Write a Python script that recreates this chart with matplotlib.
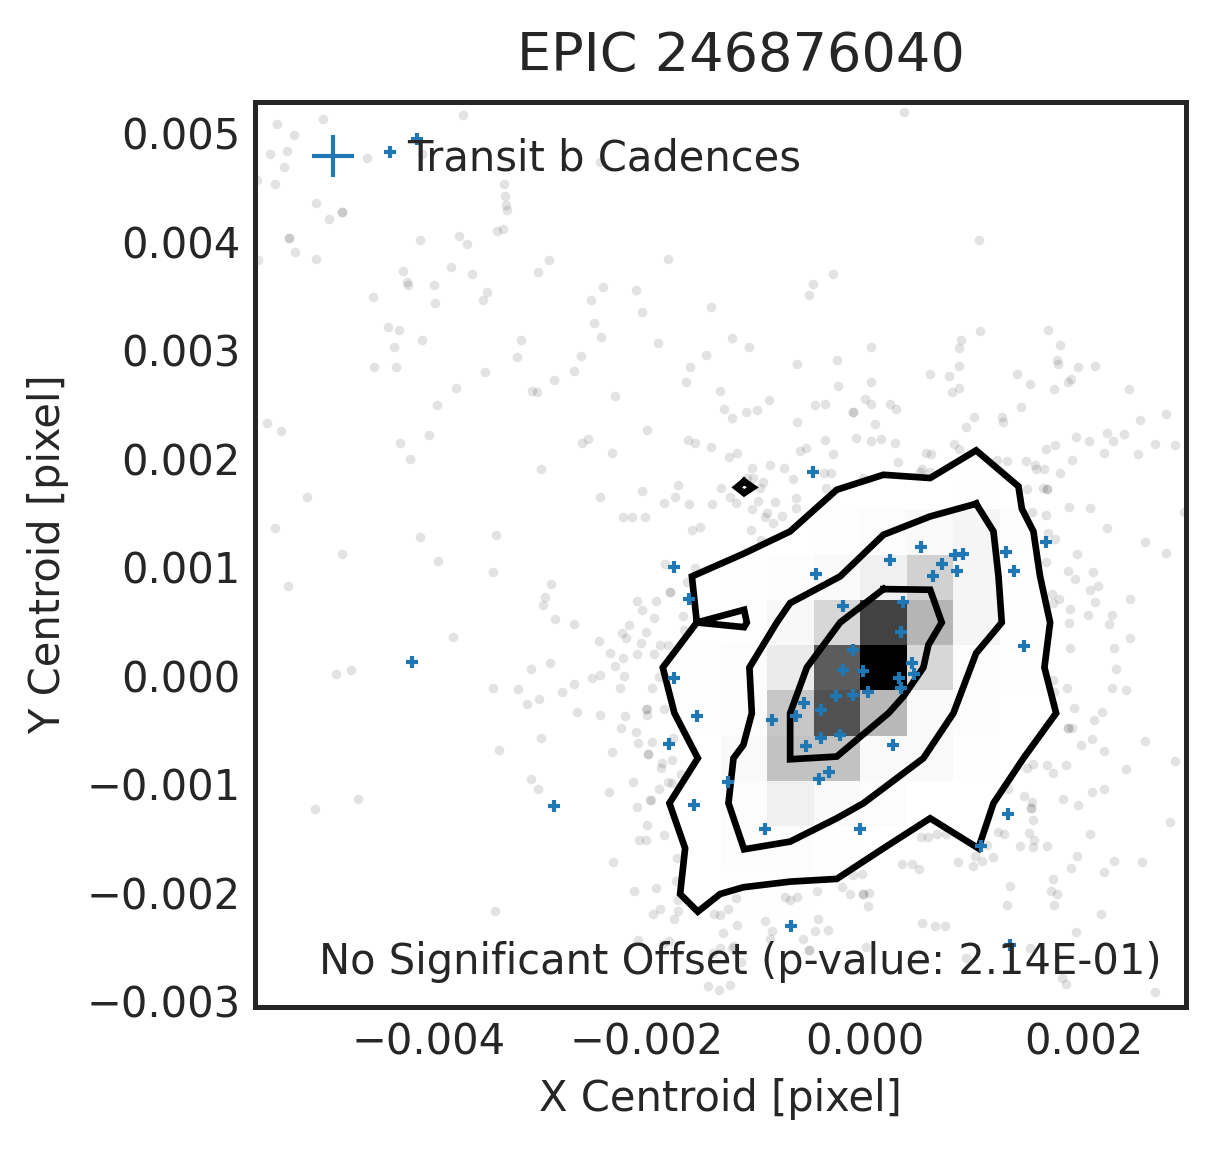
import numpy as np
import matplotlib
matplotlib.use('Agg')
import matplotlib.pyplot as plt
from matplotlib.transforms import ScaledTranslation

# all centroid values in units of 1e-3 pixel
# out of transit cadences (grey dots)
dots_x = [-5.39,-5.23,-4.97,-3.68,-5.45,-5.30,-5.32,-4.56,-4.06,-2.43,-5.41,-5.57,-5.03,-4.79,-4.79,-4.91,-5.28,-5.28,-5.22,-5.03,-5.56,
    -3.31,-3.30,-3.29,-3.28,-3.37,-3.32,-4.08,-3.72,-3.65,-4.23,-3.79,-3.60,-3.00,-2.90,-4.20,-4.19,-3.95,-3.46,-3.50,-3.94,-4.51,-2.40,-2.10,-2.51,-2.04,
    -4.37,-4.27,-2.48,-4.06,-4.32,-2.42,-3.15,-3.19,-2.60,-4.50,-4.30,-3.48,-2.67,-2.85,-3.05,-3.01,-3.75,-2.29,-3.92,-5.48,-5.35,-4.00,-2.00,-2.54,-2.59,-4.26,
    -5.11,-5.41,-4.79,-5.29,-4.08,-3.91,-4.17,-3.38,-3.41,-2.97,-2.32,-2.43,-2.04,-2.22,-2.14,-2.02,-2.88,-2.93,-2.95,-2.84,-2.67,-2.09,-2.04,-2.16,-2.23,-2.19,-2.01,-2.05,
    -2.44,-2.34,-2.22,-2.09,-2.29,-2.21,-2.43,-2.50,-2.25,-2.89,-3.06,-3.78,-4.85,-4.71,-3.41,-3.18,-2.99,-3.10,-2.78,-2.67,-2.64,-2.43,-2.20,-2.00,-2.00,-2.24,-2.10,-2.08,
    -2.97,-2.32,-3.35,-1.99,-1.99,-3.06,-3.00,-2.35,-2.13,-2.09,-1.97,-2.00,-2.07,-2.01,-2.31,-2.12,-3.39,-2.08,-4.65,-5.04,
    0.36,1.04,-1.81,-0.29,-0.48,-0.51,-1.41,-1.90,-1.22,-1.06,-1.46,-1.60,-1.64,-1.33,-1.29,-1.22,-1.09,-0.99,-0.88,-0.62,-0.62,-0.26,0.05,0.05,-0.25,-0.46,-0.37,-0.11,-0.11,0.00,0.05,0.23,0.28,0.09,
    0.59,0.77,0.86,0.86,0.88,1.05,1.68,1.79,1.76,1.77,1.95,2.11,1.39,1.51,1.73,1.86,1.89,2.42,0.80,0.86,1.43,1.25,1.26,1.00,0.92,2.76,2.52,2.22,2.37,2.27,2.05,1.93,1.74,1.66,2.19,2.50,2.66,2.84,
    1.90,1.79,1.47,1.56,1.57,1.64,1.30,1.21,1.48,1.63,1.67,1.67,0.81,0.86,0.56,0.60,0.30,0.27,0.15,0.05,-0.08,-0.29,-0.37,-0.54,-0.60,-0.74,-0.87,-1.04,-1.17,-1.25,-1.41,-1.56,-1.62,-1.71,-1.32,-0.66,
    -1.03,-0.94,-0.96,-1.08,-0.38,-0.31,-0.36,-0.02,0.50,0.52,0.59,
    -1.84,-1.74,-1.61,-1.40,-1.59,-1.51,-1.24,-1.18,-1.04,-0.98,-0.83,-0.90,-0.92,-0.84,-0.76,-0.63,-0.63,-1.05,-0.95,-1.79,-1.79,-1.92,-1.93,-1.88,-1.81,-1.93,-1.67,-1.66,-1.63,-1.83,-1.56,
    -1.89,-1.95,-2.01,-1.84,-1.95,-1.76,-1.86,-1.77,-1.87,-1.69,-1.81,-1.77,-1.89,-1.96,-1.84,-1.72,-1.92,-1.73,-1.71,-1.88,-1.94,-1.71,-1.75,-1.38,-1.26,-1.33,-1.18,-1.17,-0.92,-0.73,-0.69,-0.62,-0.44,
    -0.21,-0.14,-0.02,-0.02,0.04,-0.03,-0.11,0.03,0.52,0.64,0.73,0.34,0.43,0.49,0.51,0.58,0.66,0.74,0.85,0.99,1.07,1.01,1.12,1.17,1.22,1.27,1.42,1.54,1.67,1.50,1.55,1.54,1.46,1.53,1.52,1.52,1.81,1.31,
    1.54,1.48,1.67,1.72,1.94,1.89,1.72,1.33,1.70,1.76,1.30,1.73,1.86,1.86,1.91,1.85,1.72,1.88,1.87,1.88,1.92,1.71,1.66,1.87,1.53,1.66,1.94,
    2.06,2.22,1.68,1.74,2.56,2.76,2.92,1.86,2.09,2.13,2.06,2.11,2.43,1.78,1.72,2.04,2.26,2.23,2.43,2.28,2.30,2.26,2.39,1.73,2.17,2.10,1.90,2.08,1.98,2.19,2.56,2.84,2.39,1.84,2.19,2.08,1.95,2.79,2.06,
    2.54,2.28,2.19,2.16,1.93,1.51,2.66,1.84,1.80,0.92,0.01,-0.34,-0.46,-0.43,-0.57,-0.51,-0.51,-0.85,-0.87,-1.30,-1.85,-1.80,-1.33,-1.20,-1.22,-1.39,-1.14,-1.44,-1.34,-1.24]
dots_y = [5.10,5.00,5.14,5.18,4.82,4.85,4.70,4.78,4.82,4.75,4.54,4.58,4.37,4.29,4.29,4.22,4.05,4.05,3.92,3.85,3.84,
    4.54,4.43,4.35,4.30,4.11,4.13,4.03,4.06,3.99,3.74,3.78,3.71,3.73,3.84,3.64,3.61,3.61,3.55,3.47,3.45,3.50,3.59,3.57,3.47,3.36,
    3.23,3.20,3.26,3.11,3.04,3.13,3.11,2.95,2.96,2.86,2.86,2.81,2.82,2.74,2.64,2.63,2.66,2.59,2.51,2.34,2.27,2.23,2.28,2.19,2.16,2.16,
    1.66,1.37,1.13,0.84,1.29,1.07,2.01,1.31,0.97,1.92,2.06,1.66,1.71,1.47,1.47,1.47,0.86,0.74,0.66,0.53,0.49,0.70,0.62,0.48,0.40,0.36,0.41,0.31,
    0.33,0.22,0.17,0.21,0.10,0.01,0.02,-0.01,-0.10,0.13,0.07,0.37,0.03,0.06,-0.10,-0.11,-0.20,-0.25,-0.14,-0.07,-0.32,-0.35,-0.36,-0.30,-0.35,-0.47,-0.51,-0.61,
    -0.56,-0.69,-0.67,-0.71,-0.71,-0.94,-1.03,-1.06,-0.97,-1.20,-1.14,-1.37,-1.50,-1.50,-1.71,-1.97,-2.16,-2.43,-1.13,-1.22,
    5.21,4.03,3.85,3.71,3.62,3.52,3.41,3.08,3.12,3.04,2.97,2.86,2.72,2.64,2.47,2.39,2.44,2.46,2.55,2.88,2.35,2.92,3.04,2.72,2.68,2.51,2.52,2.44,2.44,2.56,2.52,2.52,2.47,2.33,
    2.79,2.77,2.87,3.03,3.11,3.19,3.20,3.06,2.92,2.88,2.86,2.87,2.79,2.70,2.65,2.72,2.75,2.65,2.63,2.66,2.49,2.40,2.35,2.40,2.30,2.42,2.37,2.25,2.24,2.17,2.17,2.21,2.14,2.10,2.06,2.05,2.15,2.14,
    2.00,1.88,1.99,1.95,1.92,1.92,1.99,2.00,1.73,1.74,1.73,1.73,2.15,2.10,2.06,2.05,1.98,2.16,2.19,2.17,2.20,2.05,2.18,2.11,2.08,1.93,1.95,1.93,2.06,2.03,2.12,2.16,2.18,1.77,1.74,1.82,
    1.83,1.80,1.74,1.83,1.88,1.88,1.74,1.83,1.89,1.92,1.89,
    1.60,1.66,1.59,1.59,1.35,1.38,1.66,1.60,1.55,1.62,1.61,1.51,1.47,1.42,1.48,1.65,1.56,1.35,1.26,0.78,0.78,0.70,0.54,0.29,0.29,0.21,0.56,0.43,0.87,1.04,1.00,
    0.00,-0.10,-0.30,-0.30,-0.60,-0.56,-0.79,-0.77,-0.84,-0.90,-0.97,-0.98,-1.03,-1.14,-1.46,-1.67,-1.95,-1.88,-2.06,-2.14,-2.19,-2.16,-2.23,-2.19,-2.14,-2.20,-2.04,-2.29,-2.25,-2.03,-2.06,-2.03,-1.97,
    -1.94,-2.00,-2.00,-2.00,-1.99,-1.82,-1.83,-2.11,-2.27,-2.30,-2.30,-1.73,-1.73,-1.77,-1.48,-1.48,-1.45,-1.45,-1.71,-1.74,-1.70,-1.65,-1.55,-1.66,-1.43,-1.45,-1.56,-1.57,-1.56,-1.44,-1.50,-1.32,-1.10,-1.15,-1.21,-1.21,-1.13,-1.03,
    -0.80,-0.84,-0.81,-0.89,-1.65,-1.76,-1.86,-1.93,-1.97,-2.00,-2.10,-2.10,-0.47,-0.47,-0.29,-0.10,-0.03,0.27,0.50,0.63,0.90,0.76,1.49,1.57,1.52,1.06,1.13,
    1.56,1.37,1.33,1.27,1.24,1.14,1.52,0.98,0.97,0.84,0.80,0.69,0.72,0.72,0.68,0.57,0.57,0.49,0.36,0.27,0.07,-0.10,-0.12,-0.14,-0.32,-0.40,-0.47,-0.57,-0.63,-0.68,-0.59,-0.78,-0.85,-0.81,-1.03,-1.06,-1.18,-1.34,-1.45,
    -1.71,-1.70,-1.80,-2.19,-2.35,-2.50,-2.91,-2.83,-2.78,-2.59,-2.49,-2.33,-2.34,-2.23,-2.42,-2.52,-2.52,-2.34,-2.42,-2.36,-2.46,-2.44,-2.50,-2.48,-2.50,-2.55,-2.63,-2.85,-2.89,-2.84]

# in transit cadences (blue crosses)
transit_x = [-1.75,-1.61,-1.75,-1.54,-1.80,-1.26,-1.57,-0.92,-0.85,-0.56,-0.63,-0.54,-0.42,-0.33,-0.40,-0.23,-0.40,-0.27,-0.11,-0.20,-0.11,-0.20,-0.45,-0.02,0.03,
    0.23,0.51,0.35,0.33,0.43,0.45,0.31,0.33,0.26,-0.05,0.62,0.70,0.82,0.90,0.84,1.29,1.36,1.66,1.46,1.31,1.06,-0.48,-0.68,-4.11,-4.35,-4.15,-2.85,1.33]
transit_y = [1.01,0.72,-0.01,-0.36,-0.62,-0.97,-1.18,-1.40,-0.40,-0.24,-0.36,-0.64,-0.94,-0.88,-0.56,-0.54,-0.31,-0.18,-0.17,0.06,0.25,0.65,0.95,0.05,-0.14,
    1.08,1.20,0.69,0.41,0.13,0.03,-0.01,-0.10,-0.63,-1.40,0.93,1.04,1.12,1.13,0.98,1.15,0.98,1.24,0.28,-1.26,-1.56,1.89,-2.30,4.96,4.84,0.14,-1.19,-2.47]

# contour levels of the 2d histogram
outer_x = [-1.542,-1.587,-1.115,-0.687,-0.260,0.168,0.596,1.017,1.405,1.436,1.542,1.603,1.695,1.643,1.750,1.451,1.176,1.038,0.596,0.168,-0.260,-0.687,-1.115,-1.328,-1.533,-1.695,-1.649,-1.793,-1.533,-1.747,-1.854,-1.542,-1.109,-1.084,-1.109,-1.542]
outer_y = [0.501,0.926,1.135,1.341,1.725,1.863,1.833,2.088,1.756,1.550,1.341,0.926,0.501,0.086,-0.335,-0.750,-1.165,-1.581,-1.304,-1.581,-1.863,-1.888,-1.940,-2.002,-2.165,-2.002,-1.581,-1.165,-0.750,-0.335,0.086,0.501,0.618,0.501,0.458,0.501]
island_x = [-1.109,-1.029,-1.109,-1.176,-1.109]
island_y = [1.802,1.747,1.694,1.747,1.802]
middle_x = [1.017,0.596,0.168,-0.229,-0.687,-0.809,-1.060,-1.038,-1.115,-1.206,-1.252,-1.109,-0.687,-0.260,-0.015,0.168,0.534,0.809,1.017,1.252,1.222,1.176,1.017]
middle_y = [1.596,1.479,1.310,0.926,0.680,0.501,0.086,-0.335,-0.627,-0.750,-1.165,-1.590,-1.519,-1.304,-1.165,-1.027,-0.750,-0.335,0.218,0.501,0.926,1.341,1.596]
inner_x = [0.168,0.596,0.702,0.580,0.534,0.351,0.214,-0.260,-0.687,-0.687,-0.534,-0.229,0.168]
inner_y = [0.809,0.803,0.501,0.295,0.086,-0.181,-0.335,-0.735,-0.760,-0.335,0.086,0.501,0.809]

# 20x20 histogram, darkness in percent, first row is the top of the plot
hist_rows = [
    [0]*20,
    [0]*20,
    [0,.2,.2,.2,0,0,.1,.1,.1,0,0,0,0,0,0,0,0,0,0,0],
    [0,0,0,.1,.1,.2,.2,.2,.1,.1,.1,.1,0,.1,.1,0,0,0,0,0],
    [0,0,0,.1,.1,.2,.2,.2,.2,.1,.1,.1,.1,.1,.1,0,0,0,0,0],
    [0,0,0,0,.1,.2,.2,.2,.2,.2,.2,.2,.1,.2,.2,.2,.2,.1,0,0],
    [0,0,0,.1,.1,.1,.1,.1,.2,.2,.2,.2,.2,.2,.2,.2,.2,.2,.1,0],
    [0,0,.1,.1,.1,.1,.1,.1,.2,.2,.2,.2,.2,.2,.2,.2,.2,.2,.1,0],
    [0,0,.1,.1,.1,.1,.1,.2,.2,.2,.2,.2,.2,.2,.3,.4,.3,.2,.1,0],
    [0,0,0,.1,.1,.1,.1,.2,.2,.3,.3,.3,.5,1.5,2.5,4,.8,.2,.1,0],
    [0,0,0,.1,.1,.1,.1,.2,.2,.3,.5,.8,2.5,6,18,4,.5,.2,.1,0],
    [0,0,0,0,.1,.1,.1,.2,.2,.3,.7,3,16,74,29,4,.7,.2,.1,0],
    [0,0,0,0,.1,.1,.1,.2,.2,.6,1.5,8,64,100,16,1.5,.4,.2,.1,0],
    [0,0,0,0,.1,.1,.1,.2,.2,.5,1.5,22,68,28,2.5,1.2,.3,.2,.1,0],
    [0,0,0,0,.1,.1,.1,.2,.2,.3,2.5,24,24,2.5,2.5,.4,.2,.2,.1,0],
    [0,0,0,0,0,.1,.1,.2,.2,.3,1.5,6,2.5,1.5,.3,.2,.2,.2,.1,0],
    [0,0,0,0,0,0,.1,.1,.2,.3,1.2,1.2,.7,.3,.2,.2,.2,.1,.1,0],
    [0,0,0,0,0,0,.1,.1,.2,.3,.6,.6,.3,.2,.2,.2,.1,.1,0,0],
    [0,0,0,0,0,0,0,0,.1,.1,.2,.2,.2,.1,.1,.1,.1,.1,0,0],
    [0,0,0,0,0,0,0,0,0,.1,.1,.1,.1,.1,.1,.1,.1,0,0,0],
]

x_ticks = [-0.004, -0.002, 0.000, 0.002]
y_ticks = [-0.003, -0.002, -0.001, 0.000, 0.001, 0.002, 0.003, 0.004, 0.005]

xlim = (-0.00559, 0.00294)
ylim = (-0.003044, 0.0053)
dark = '#262626'
blue = '#1f77b4'
scale = 1e-3


def main():
    plt.rcParams['font.family'] = 'DejaVu Sans'
    plt.rcParams['axes.unicode_minus'] = True

    fig = plt.figure(figsize=(4.05, 3.83), dpi=300)
    ax = fig.add_axes([255/1215, 1 - 1007/1149, 931/1215, 905/1149])

    # histogram underneath everything
    xedges = np.linspace(xlim[0], xlim[1], 21)
    yedges = np.linspace(ylim[0], ylim[1], 21)
    hist = np.array(hist_rows, dtype=float)[::-1]
    ax.pcolormesh(xedges, yedges, hist, cmap='gray_r', vmin=0, vmax=100,
                  linewidth=0, zorder=1)

    ax.scatter(np.array(dots_x)*scale, np.array(dots_y)*scale, s=5.4, c='k',
               alpha=0.11, linewidths=0, zorder=2)

    # contour lines
    for cx, cy in [(outer_x, outer_y), (island_x, island_y),
                   (middle_x, middle_y), (inner_x, inner_y)]:
        ax.plot(np.array(cx)*scale, np.array(cy)*scale, color='k', lw=1.6,
                solid_joinstyle='miter', zorder=3)

    ax.plot(np.array(transit_x)*scale, np.array(transit_y)*scale, ls='none',
            marker='+', ms=2.8, mew=1.0, color=blue, zorder=4,
            label='Transit b Cadences')

    ax.set_xlim(xlim)
    ax.set_ylim(ylim)
    ax.set_xticks(x_ticks)
    ax.set_yticks(y_ticks)
    ax.set_xticklabels(['\u2212%.3f' % abs(t) if t < 0 else '%.3f' % t for t in x_ticks])
    ax.set_yticklabels(['\u2212%.3f' % abs(t) if t < 0 else '%.3f' % t for t in y_ticks])
    ax.tick_params(length=0, labelsize=10, labelcolor=dark, pad=3.5)
    # y tick labels sit a hair higher in the original
    nudge = ScaledTranslation(0, 0.3/72, fig.dpi_scale_trans)
    for lab in ax.get_yticklabels():
        lab.set_transform(lab.get_transform() + nudge)
    ax.set_xlabel('X Centroid [pixel]', fontsize=10, color=dark, labelpad=3.5)
    ax.set_ylabel('Y Centroid [pixel]', fontsize=10, color=dark, labelpad=4.2)
    for spine in ax.spines.values():
        spine.set_color(dark)
        spine.set_linewidth(1.2)

    ax.text(0.522, 1.022, 'EPIC 246876040', transform=ax.transAxes, ha='center',
            va='bottom', fontsize=13, color=dark)

    leg = ax.legend(loc='upper left', frameon=False, fontsize=10, markerscale=3.6,
                    numpoints=1, handletextpad=0.8, borderaxespad=0.46)
    for t in leg.get_texts():
        t.set_color(dark)

    ax.text(0.974, 0.050, 'No Significant Offset (p-value: 2.14E-01)',
            transform=ax.transAxes, ha='right', va='center', fontsize=10,
            color=dark, zorder=5)

    fig.savefig('out.png', dpi=300)


if __name__ == '__main__':
    main()
